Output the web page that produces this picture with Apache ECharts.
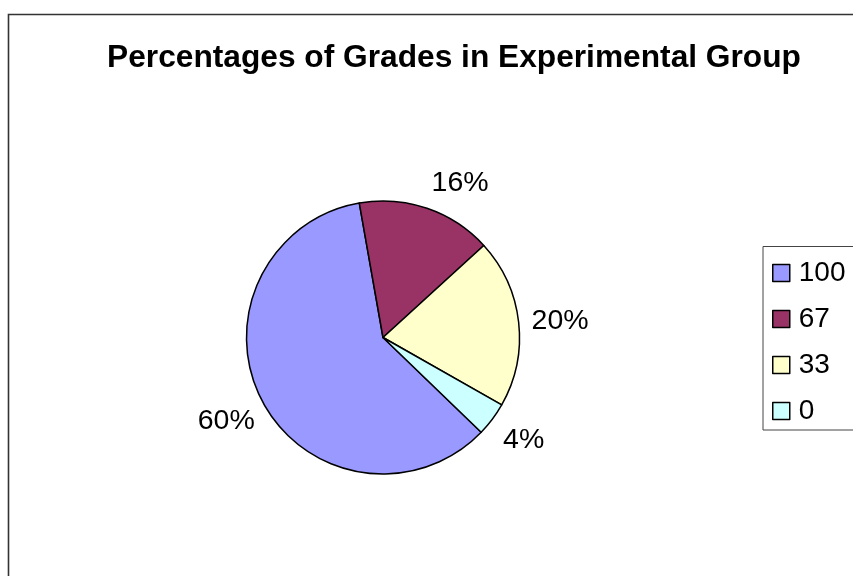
<!DOCTYPE html>
<html>
<head>
<meta charset="utf-8">
<script src="https://cdn.jsdelivr.net/npm/echarts@6/dist/echarts.min.js"></script>
<style>
  html, body { margin: 0; padding: 0; background: #fff; }
  #chart { width: 853px; height: 576px; }
</style>
</head>
<body>
<div id="chart"></div>
<script>
// Grade categories and number of students in each
const grades = ['100', '67', '33', '0'];
const counts = [15, 4, 5, 1];
const sliceColors = ['#9999FF', '#993366', '#FFFFCC', '#CCFFFF'];
const chartTitle = 'Percentages of Grades in Experimental Group';

const FONT = '"Liberation Sans", Arial, sans-serif';
const pieCenter = [383, 337.5];
const pieRadius = 136.5;
// first slice begins 134 degrees clockwise from 12 o'clock
const firstSliceAngle = 134;

const total = counts.reduce((a, b) => a + b, 0);
// mid-angle of every slice, clockwise from 12 o'clock, in degrees
const midAngles = [];
{
  let acc = firstSliceAngle;
  counts.forEach(v => {
    const span = v / total * 360;
    midAngles.push(acc + span / 2);
    acc += span;
  });
}

const chart = echarts.init(document.getElementById('chart'), null, { renderer: 'canvas' });

const clamp = v => Math.max(-1, Math.min(1, v));
// how far the label box slides off its anchor, horizontally and vertically
const slideX = d => clamp(3 * d);
const slideY = d => Math.sign(d) * clamp(3 * Math.max(0, Math.abs(d) - 0.15));

chart.setOption({
  backgroundColor: '#ffffff',
  animation: false,
  title: {
    text: chartTitle,
    left: 449,
    top: 37,
    textAlign: 'center',
    textStyle: { fontFamily: FONT, fontWeight: 'bold', fontSize: 31.7, color: '#000' }
  },
  legend: {
    orient: 'vertical',
    left: 763,
    top: 246.5,
    padding: [12.5, 40, 5, 9],
    itemWidth: 17,
    itemHeight: 17,
    itemGap: 18,
    backgroundColor: '#ffffff',
    borderColor: '#444',
    borderWidth: 1,
    borderRadius: 0,
    icon: 'rect',
    itemStyle: { borderColor: '#000', borderWidth: 1.5 },
    textStyle: { fontFamily: FONT, fontSize: 28, color: '#000', padding: [0, 0, 0, 4] },
    data: grades
  },
  graphic: [{
    type: 'rect',
    silent: true,
    z: -10,
    shape: { x: 8.5, y: 14.5, width: 1200, height: 1200 },
    style: { fill: 'none', stroke: '#333', lineWidth: 1.6 }
  }],
  series: [{
    type: 'pie',
    center: pieCenter,
    radius: pieRadius,
    startAngle: 90 - firstSliceAngle,
    clockwise: true,
    avoidLabelOverlap: false,
    percentPrecision: 0,
    itemStyle: { borderColor: '#000', borderWidth: 1.5 },
    label: {
      show: true,
      position: 'outside',
      formatter: '{d}%',
      fontFamily: FONT,
      fontSize: 28.5,
      color: '#000'
    },
    labelLine: { show: false },
    emphasis: { disabled: true },
    labelLayout: function (params) {
      const a = midAngles[params.dataIndex] * Math.PI / 180;
      const dx = Math.sin(a), dy = -Math.cos(a);
      const R = pieRadius + 11;
      const hw = params.labelRect.width / 2, hh = params.labelRect.height / 2;
      return {
        x: pieCenter[0] + dx * R + hw * slideX(dx) + 2,
        y: pieCenter[1] + dy * R + hh * slideY(dy),
        align: 'center',
        verticalAlign: 'middle'
      };
    },
    data: grades.map((g, i) => ({
      name: g,
      value: counts[i],
      itemStyle: { color: sliceColors[i] }
    }))
  }]
});
</script>
</body>
</html>
